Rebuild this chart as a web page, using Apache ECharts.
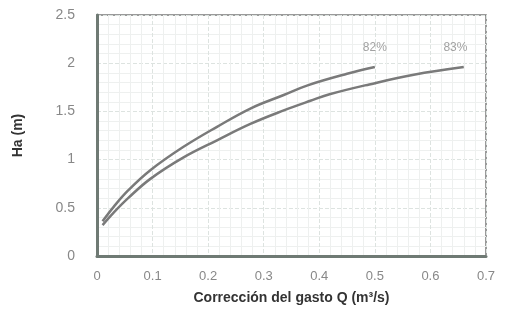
<!DOCTYPE html>
<html><head><meta charset="utf-8">
<script src="https://cdn.jsdelivr.net/npm/echarts@6/dist/echarts.min.js"></script>
<style>html,body{margin:0;padding:0;background:#fff}#c{width:510px;height:321px}</style>
</head><body><div id="c"></div>
<script>
const s82 = [[0.01,0.36],[0.03,0.51],[0.056,0.68],[0.096,0.89],[0.155,1.13],[0.216,1.34],[0.276,1.53],[0.336,1.67],[0.379,1.77],[0.45,1.89],[0.5,1.96]];
const s83 = [[0.01,0.32],[0.03,0.45],[0.056,0.60],[0.096,0.80],[0.155,1.02],[0.216,1.20],[0.276,1.37],[0.336,1.51],[0.384,1.61],[0.42,1.68],[0.49,1.78],[0.57,1.88],[0.66,1.96]];
const seriesNames = ['82%','83%'];
const labelPos = [[0.5,2.16],[0.645,2.16]];
const chart = echarts.init(document.getElementById('c'));
const lineColor = '#7a7a7a';
function mk(name, data){
  return {type:'line', name, data, showSymbol:false, smooth:0.4,
    lineStyle:{color:lineColor,width:2.5}, itemStyle:{color:lineColor}};
}
chart.setOption({
  animation:false,
  grid:{left:97,right:24,top:15,bottom:65},
  xAxis:{type:'value',min:0,max:0.7,interval:0.1,
    name:'Corrección del gasto Q (m³/s)',nameLocation:'middle',nameGap:35,
    nameTextStyle:{fontSize:14,fontWeight:'bold',color:'#333',fontFamily:'Liberation Sans'},
    axisLine:{show:true,lineStyle:{color:'#6f7a74',width:3}},axisTick:{show:false},
    axisLabel:{color:'#888',fontSize:13,margin:14,fontFamily:'Liberation Sans',formatter:v=>v===0?'0':v.toFixed(1)},
    splitLine:{show:true,lineStyle:{color:'#dde3e0',type:'dashed'}},
    minorTick:{show:false},minorSplitLine:{show:true,lineStyle:{color:'#eef0ef'}}},
  yAxis:{type:'value',min:0,max:2.5,interval:0.5,
    name:'Ha (m)',nameLocation:'middle',nameGap:72,
    nameTextStyle:{fontSize:14,fontWeight:'bold',color:'#333',fontFamily:'Liberation Sans'},
    axisLine:{show:true,lineStyle:{color:'#6f7a74',width:3}},axisTick:{show:false},
    axisLabel:{color:'#888',fontSize:14,margin:22,fontFamily:'Liberation Sans'},
    splitLine:{show:true,lineStyle:{color:'#dde3e0',type:'dashed'}},
    minorTick:{show:false},minorSplitLine:{show:true,lineStyle:{color:'#eef0ef'}}},
  series:[mk(seriesNames[0],s82),mk(seriesNames[1],s83),
    {type:'scatter',symbolSize:1,itemStyle:{color:'rgba(0,0,0,0)'},
     data:labelPos.map((p,i)=>({value:p,name:seriesNames[i]})),
     label:{show:true,position:'inside',formatter:p=>p.name,color:'#8a8a8a',fontSize:12,fontFamily:'Liberation Sans'}}],
  graphic:[{type:'rect',shape:{x:97,y:15,width:389,height:241},style:{fill:'none',stroke:'#7a7a7a',lineWidth:1.5},silent:true}]
});
</script></body></html>
